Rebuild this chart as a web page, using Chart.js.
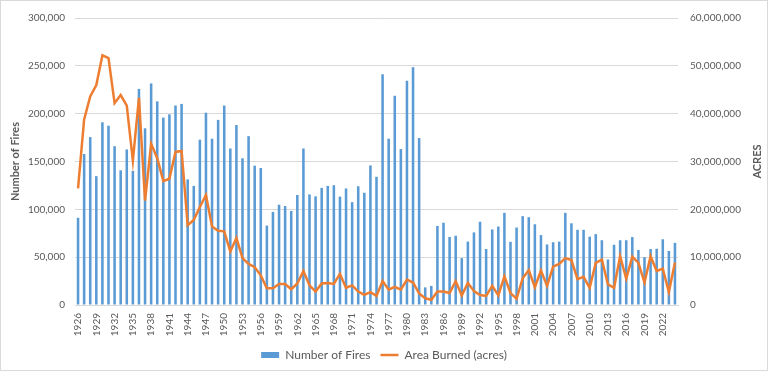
<!DOCTYPE html>
<html>
<head>
<meta charset="utf-8">
<script src="https://cdn.jsdelivr.net/npm/chart.js@4.4.1/dist/chart.umd.min.js"></script>
<style>
html,body{margin:0;padding:0;background:#fff;}
#wrap{width:768px;height:371px;position:relative;}
</style>
</head>
<body>
<div id="wrap"><canvas id="c" width="768" height="371"></canvas></div>
<script>
const years = [];
for (let y = 1926; y <= 2024; y++) years.push(String(y));

const numberOfFires = [
  91200,157800,175500,134700,190980,187400,166000,140800,162600,140100,
  225900,184700,231600,212900,195900,199300,208500,210200,131300,124500,
  172800,201000,173800,193500,208500,163600,188100,153400,176500,145600,
  143200,83000,97300,104800,103400,98300,115000,163600,115600,113600,
  122400,124500,125200,113300,121800,107500,124100,117300,145900,134000,
  241200,173800,218700,163000,234400,248600,174500,18400,20000,82700,
  86000,71100,72400,49000,66300,75900,87000,58500,79000,82000,
  96300,66000,81000,92900,91800,84400,73100,63300,65600,66300,
  96300,85400,78600,78600,71400,74100,67700,47600,63000,67700,
  67700,71000,57500,50000,58500,58800,68700,56500,65000
];

const areaBurnedAcres = [
  24400000,38800000,43600000,46000000,52200000,51600000,42200000,43900000,41700000,30200000,
  43300000,21800000,33700000,30700000,25900000,26400000,32000000,32200000,16700000,17800000,
  20500000,23000000,16400000,15500000,15400000,11200000,14000000,9800000,8600000,7900000,
  6200000,3500000,3500000,4400000,4400000,3300000,4500000,7100000,4100000,2800000,
  4500000,4600000,4400000,6500000,3600000,4100000,2800000,2100000,2700000,1900000,
  5000000,3200000,3800000,3200000,5300000,4700000,2400000,1400000,1100000,2800000,
  2800000,2500000,5000000,2000000,4600000,2900000,2100000,1900000,4000000,2000000,
  6000000,2500000,1300000,5600000,7300000,3700000,7200000,4000000,8000000,8600000,
  9800000,9400000,5400000,5900000,3600000,8800000,9500000,4300000,3600000,10200000,
  5500000,10100000,8800000,4700000,10200000,7100000,7600000,2700000,8900000
];

const leftTicks = [0,50000,100000,150000,200000,250000,300000];
const rightTicks = [0,10000000,20000000,30000000,40000000,50000000,60000000];

const FONT = "Lato, 'Open Sans', sans-serif";
const TXT = '#595959';
const GRID = '#d9d9d9';

const extras = {
  id: 'extras',
  afterDraw(chart) {
    const ctx = chart.ctx;
    ctx.save();
    // right axis title, rotated like Excel secondary axis title
    const a = chart.chartArea;
    ctx.translate(757, (a.top + a.bottom) / 2);
    ctx.rotate(-Math.PI / 2);
    ctx.fillStyle = TXT;
    ctx.font = "bold 11px " + FONT;
    ctx.textAlign = 'center';
    ctx.textBaseline = 'middle';
    ctx.fillText('ACRES', 0, 0);
    ctx.restore();
    // outer frame
    ctx.save();
    ctx.strokeStyle = '#d9d9d9';
    ctx.lineWidth = 1;
    ctx.strokeRect(0.5, 0.5, chart.width - 1, chart.height - 1);
    ctx.restore();
  }
};

new Chart(document.getElementById('c'), {
  type: 'bar',
  data: {
    labels: years,
    datasets: [
      {
        type: 'bar',
        label: 'Number of Fires',
        data: numberOfFires,
        backgroundColor: '#5B9BD5',
        borderWidth: 0,
        barPercentage: 0.42,
        categoryPercentage: 1.0,
        yAxisID: 'y',
        order: 1,
        pointStyle: 'rect'
      },
      {
        type: 'line',
        label: 'Area Burned (acres)',
        data: areaBurnedAcres,
        borderColor: '#ED7D31',
        backgroundColor: '#ED7D31',
        borderWidth: 2.5,
        pointRadius: 0,
        pointHoverRadius: 0,
        tension: 0,
        yAxisID: 'y1',
        order: 0,
        pointStyle: 'line'
      }
    ]
  },
  options: {
    responsive: false,
    animation: false,
    devicePixelRatio: 1,
    layout: { padding: { left: 0, right: 0, top: 12, bottom: 0 } },
    plugins: {
      tooltip: { enabled: false },
      legend: {
        position: 'bottom',
        labels: {
          usePointStyle: true,
          pointStyleWidth: 18,
          boxHeight: 6,
          padding: 10,
          color: TXT,
          font: { family: FONT, size: 12 },
          sort: (a, b) => a.datasetIndex - b.datasetIndex
        }
      }
    },
    scales: {
      x: {
        grid: { display: false, drawTicks: false },
        border: { display: true, color: GRID },
        ticks: {
          autoSkip: false,
          maxRotation: 90,
          minRotation: 90,
          padding: 8,
          color: TXT,
          font: { family: FONT, size: 10 },
          callback: function (v, i) { return i % 3 === 0 ? years[i] : ''; }
        },
        afterFit(s) { s.height = 34; }
      },
      y: {
        position: 'left',
        min: 0,
        max: 300000,
        afterBuildTicks(s) { s.ticks = leftTicks.map(v => ({ value: v })); },
        grid: { color: GRID, drawTicks: false },
        border: { display: false },
        ticks: {
          padding: 10,
          color: TXT,
          font: { family: FONT, size: 10 },
          callback: v => Number(v).toLocaleString('en-US')
        },
        title: {
          display: true,
          text: 'Number of Fires',
          color: TXT,
          font: { family: FONT, size: 11, weight: 'bold' },
          padding: { top: 9, bottom: 0 }
        },
        afterFit(s) { s.width = 75; }
      },
      y1: {
        position: 'right',
        min: 0,
        max: 60000000,
        afterBuildTicks(s) { s.ticks = rightTicks.map(v => ({ value: v })); },
        grid: { display: false, drawTicks: false },
        border: { display: false },
        ticks: {
          padding: 12,
          color: TXT,
          font: { family: FONT, size: 10 },
          callback: v => Number(v).toLocaleString('en-US')
        },
        afterFit(s) { s.width = 90; }
      }
    }
  },
  plugins: [extras]
});
</script>
</body>
</html>
